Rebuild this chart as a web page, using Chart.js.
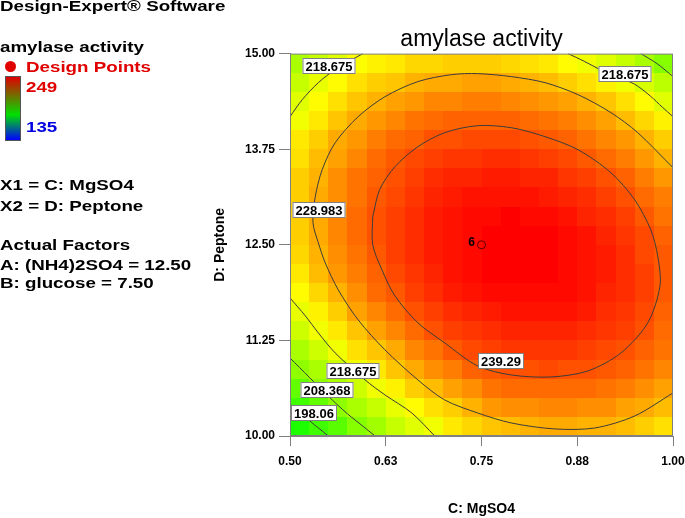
<!DOCTYPE html>
<html>
<head>
<meta charset="utf-8">
<title>amylase activity</title>
<script src="https://cdn.jsdelivr.net/npm/chart.js@4.4.1/dist/chart.umd.min.js"></script>
<style>
  html, body { margin: 0; padding: 0; background: #fff; }
  #wrap { position: relative; width: 685px; height: 518px; overflow: hidden; }
  #chart { position: absolute; left: 0; top: 0; }
  .side {
    position: absolute; left: 0;
    font: bold 15px "Liberation Sans", Arial, sans-serif;
    line-height: 15px; white-space: nowrap; color: #000;
    transform: scaleX(1.25); transform-origin: 0 0;
  }
  #dot { position: absolute; left: 5px; top: 61px; width: 11px; height: 11px; border-radius: 50%; background: #e00000; }
  #bar {
    position: absolute; left: 5px; top: 76px; width: 16px; height: 65px;
    box-sizing: border-box; border: 1px solid #555;
    background: linear-gradient(to bottom, #e00000 0%, #00e000 60%, #0000ff 100%);
  }
</style>
</head>
<body>
<div id="wrap">
  <canvas id="chart" width="685" height="518"></canvas>
  <div class="side" style="top:-2px">Design-Expert® Software</div>
  <div class="side" style="top:39px">amylase activity</div>
  <div id="dot"></div>
  <div class="side" style="top:59px; left:26px; color:#e00000">Design Points</div>
  <div id="bar"></div>
  <div class="side" style="top:79px; left:26px; color:#e00000">249</div>
  <div class="side" style="top:119px; left:26px; color:#0000e0">135</div>
  <div class="side" style="top:177px">X1 = C: MgSO4</div>
  <div class="side" style="top:198px">X2 = D: Peptone</div>
  <div class="side" style="top:237px">Actual Factors</div>
  <div class="side" style="top:257px">A: (NH4)2SO4 = 12.50</div>
  <div class="side" style="top:275px">B: glucose = 7.50</div>
</div>
<script>
// colour scale limits (from the legend bar)
const scaleMin = 135;
const scaleMax = 249;

// cell centres of the response grid
const mgso4Levels = [0.5125, 0.5375, 0.5625, 0.5875, 0.6125, 0.6375, 0.6625, 0.6875, 0.7125, 0.7375,
                     0.7625, 0.7875, 0.8125, 0.8375, 0.8625, 0.8875, 0.9125, 0.9375, 0.9625, 0.9875];
const peptoneLevels = [14.875, 14.625, 14.375, 14.125, 13.875, 13.625, 13.375, 13.125, 12.875, 12.625,
                       12.375, 12.125, 11.875, 11.625, 11.375, 11.125, 10.875, 10.625, 10.375, 10.125];

// amylase activity, one row per peptone level (top to bottom)
const activity = [
  [211,214,217,220,222,223,225,225,226,226,226,225,224,223,221,219,217,214,211,207],
  [214,218,221,224,226,227,229,230,230,231,231,230,229,228,226,224,222,219,216,213],
  [217,221,224,227,229,231,232,234,234,235,235,234,233,232,231,229,227,224,221,217],
  [219,223,227,230,232,234,236,237,238,238,238,238,237,236,235,233,231,228,225,222],
  [223,226,230,232,235,237,238,240,240,241,241,241,240,239,238,236,234,232,229,226],
  [224,228,231,234,237,239,241,242,243,243,244,244,243,242,241,239,237,235,232,229],
  [226,229,233,236,238,240,242,244,245,245,246,246,245,245,243,242,240,238,235,232],
  [226,230,233,236,239,241,243,245,246,247,247,247,247,246,245,244,242,240,237,235],
  [226,230,234,237,240,242,244,246,247,248,248,249,248,248,247,245,244,242,239,236],
  [226,230,234,237,240,242,244,246,247,248,249,249,249,249,248,247,245,243,241,238],
  [225,229,233,236,239,242,244,246,247,248,249,249,249,249,248,247,246,244,241,239],
  [223,228,232,235,238,241,243,245,247,248,249,249,249,249,248,247,246,244,242,239],
  [221,225,229,233,237,239,242,244,246,247,248,248,248,248,248,247,245,244,242,239],
  [218,222,226,231,234,237,240,242,244,245,246,247,247,247,247,246,244,243,241,238],
  [215,219,223,227,231,234,237,240,242,243,244,245,245,245,245,244,243,242,240,237],
  [211,215,219,224,227,230,234,236,239,241,242,243,243,243,243,242,241,240,238,236],
  [208,211,215,219,223,227,230,233,235,238,239,240,240,241,240,240,239,238,236,234],
  [203,208,211,215,219,222,226,228,231,233,236,237,237,237,237,237,236,235,233,231],
  [199,203,208,211,214,218,221,224,226,229,232,233,233,234,234,233,233,231,230,228],
  [195,199,202,207,210,214,217,219,223,225,227,228,229,230,230,229,229,228,226,224]
];

// contour lines
const contour239 = [[0.608,12.866],[0.608,12.50],[0.620,12.173],[0.637,11.832],[0.667,11.479],[0.702,11.217],
  [0.745,10.916],[0.789,10.798],[0.841,10.772],[0.889,10.851],[0.932,11.086],[0.967,11.479],[0.983,11.963],
  [0.980,12.356],[0.971,12.696],[0.950,13.089],[0.919,13.442],[0.876,13.743],[0.833,13.914],[0.789,14.031],
  [0.745,14.058],[0.702,13.966],[0.667,13.783],[0.637,13.521],[0.617,13.220],[0.608,12.866]];
const contour229 = [[1.0,13.508],[0.954,13.966],[0.919,14.228],[0.876,14.463],[0.833,14.620],[0.789,14.699],
  [0.745,14.738],[0.711,14.725],[0.667,14.634],[0.624,14.437],[0.589,14.175],[0.559,13.835],[0.542,13.482],
  [0.533,13.128],[0.530,12.788],[0.537,12.526],[0.546,12.264],[0.563,11.911],[0.589,11.518],[0.624,11.126],
  [0.667,10.733],[0.702,10.471],[0.745,10.301],[0.789,10.170],[0.846,10.092],[0.898,10.105],[0.950,10.262],
  [1.0,10.563]];
const contour219TL = [[0.5,14.175],[0.516,14.398],[0.537,14.620],[0.559,14.791],[0.595,15.0]];
const contour219TR = [[0.863,15.0],[0.884,14.90],[0.905,14.79],[0.930,14.68],[0.950,14.60],[0.971,14.44],
  [0.986,14.30],[1.0,14.175]];
const contour219BL = [[0.5,11.806],[0.520,11.571],[0.537,11.348],[0.559,11.086],[0.598,10.733],[0.624,10.537],
  [0.659,10.301],[0.689,10.0]];
const contour208TR = [[0.958,15.0],[0.979,14.87],[1.0,14.70]];
const contour208BL = [[0.5,11.02],[0.525,10.77],[0.55,10.52],[0.575,10.29],[0.595,10.13],[0.611,10.0]];
const contour198 = [[0.5,10.419],[0.526,10.196],[0.550,10.0]];

// contour label text and where it sits
const contourLabels = [
  ['218.675', 0.551, 14.843], ['218.675', 0.937, 14.738], ['228.983', 0.538, 12.958],
  ['239.29', 0.775, 10.982], ['218.675', 0.582, 10.851], ['208.368', 0.548, 10.602],
  ['198.06', 0.531, 10.301]
];

// design points
const designX = [0.75];
const designY = [12.5];
const designRuns = ['6'];

// axis ticks
const xTickValues = [0.5, 0.625, 0.75, 0.875, 1.0];
const xTickLabels = ['0.50', '0.63', '0.75', '0.88', '1.00'];
const yTickValues = [10, 11.25, 12.5, 13.75, 15];
const yTickLabels = ['10.00', '11.25', '12.50', '13.75', '15.00'];

const FONT = '"Liberation Sans", Arial, sans-serif';
Chart.defaults.font.family = FONT;

// green -> yellow -> red like the Design-Expert palette
function dxColor(v) {
  const t = Math.max(0, Math.min(1, (v - scaleMin) / (scaleMax - scaleMin)));
  let r, g, b;
  if (t < 0.25) { r = 0; g = 255 * t / 0.25; b = 255; }
  else if (t < 0.5) { r = 0; g = 255; b = 255 * (0.5 - t) / 0.25; }
  else if (t < 0.75) { r = 255 * (t - 0.5) / 0.25; g = 255; b = 0; }
  else { r = 255; g = 255 * (1 - t) / 0.25; b = 0; }
  return `rgb(${Math.round(r)},${Math.round(g)},${Math.round(b)})`;
}

const heatmap = {
  id: 'heatmap',
  beforeDatasetsDraw(chart) {
    const { ctx, scales: { x, y } } = chart;
    const hx = (mgso4Levels[1] - mgso4Levels[0]) / 2;
    const hy = (peptoneLevels[0] - peptoneLevels[1]) / 2;
    ctx.save();
    peptoneLevels.forEach((pv, r) => {
      mgso4Levels.forEach((mv, c) => {
        const l = Math.round(x.getPixelForValue(mv - hx));
        const rt = Math.round(x.getPixelForValue(mv + hx));
        const t = Math.round(y.getPixelForValue(pv + hy));
        const b = Math.round(y.getPixelForValue(pv - hy));
        ctx.fillStyle = dxColor(activity[r][c]);
        ctx.fillRect(l, t, rt - l, b - t);
      });
    });
    ctx.restore();
  }
};

const frameAndLabels = {
  id: 'frameAndLabels',
  afterDatasetsDraw(chart) {
    const { ctx, chartArea: a, scales: { x, y } } = chart;
    ctx.save();
    ctx.strokeStyle = '#808080';
    ctx.lineWidth = 1;
    ctx.strokeRect(a.left + 0.5, a.top + 0.5, a.right - a.left - 1, a.bottom - a.top - 1);

    ctx.font = 'bold 13px ' + FONT;
    ctx.textAlign = 'center';
    ctx.textBaseline = 'middle';
    contourLabels.forEach(([txt, lx, ly]) => {
      const px = Math.round(x.getPixelForValue(lx));
      const py = Math.round(y.getPixelForValue(ly));
      const w = Math.ceil(ctx.measureText(txt).width) + 6;
      const h = 16;
      ctx.fillStyle = '#fff';
      ctx.fillRect(px - w / 2, py - h / 2, w, h);
      ctx.strokeStyle = '#808080';
      ctx.strokeRect(px - w / 2 + 0.5, py - h / 2 + 0.5, w - 1, h - 1);
      ctx.fillStyle = '#000';
      ctx.fillText(txt, px, py + 1);
    });

    ctx.font = 'bold 12px ' + FONT;
    designX.forEach((dx, i) => {
      ctx.fillStyle = '#000';
      ctx.fillText(designRuns[i], x.getPixelForValue(dx) - 10, y.getPixelForValue(designY[i]) - 2);
    });
    ctx.restore();
  }
};

const lineStyle = {
  showLine: true, pointRadius: 0, borderColor: '#3c3c3c', borderWidth: 1, tension: 0.3
};
const toPts = arr => arr.map(([px, py]) => ({ x: px, y: py }));

const contourSets = [contour239, contour229, contour219TL, contour219TR, contour219BL,
                     contour208TR, contour208BL, contour198]
  .map(c => Object.assign({ data: toPts(c) }, lineStyle));

const tickFont = { family: FONT, size: 12, weight: 'bold' };
const titleFont = { family: FONT, size: 14, weight: 'bold' };

new Chart(document.getElementById('chart'), {
  type: 'scatter',
  data: {
    datasets: [
      ...contourSets,
      {
        data: designX.map((v, i) => ({ x: v, y: designY[i] })),
        pointRadius: 4, pointBorderWidth: 1,
        pointBorderColor: '#5a0000', pointBackgroundColor: 'rgba(0,0,0,0)'
      }
    ]
  },
  options: {
    responsive: false,
    animation: false,
    layout: { padding: { left: 212, right: 12, top: 26, bottom: 0 } },
    plugins: {
      legend: { display: false },
      tooltip: { enabled: false },
      title: {
        display: true, text: 'amylase activity', fullSize: false, color: '#000',
        font: { family: FONT, size: 23, weight: 'normal' }, padding: { top: 0, bottom: 0 }
      }
    },
    scales: {
      x: {
        type: 'linear', min: 0.5, max: 1.0,
        afterFit: s => { s.height = 82; s.paddingLeft = 0; s.paddingRight = 0; },
        afterBuildTicks: s => { s.ticks = xTickValues.map(v => ({ value: v })); },
        ticks: { callback: (v, i) => xTickLabels[i], font: tickFont, color: '#000', padding: 8, maxRotation: 0, autoSkip: false },
        grid: { drawOnChartArea: false, tickLength: 10, color: '#808080' },
        border: { color: '#808080' },
        title: { display: true, text: 'C: MgSO4', font: titleFont, color: '#000', padding: { top: 0, bottom: 0 } }
      },
      y: {
        type: 'linear', min: 10, max: 15,
        afterFit: s => { s.width = 78; s.paddingTop = 0; s.paddingBottom = 0; },
        afterBuildTicks: s => { s.ticks = yTickValues.map(v => ({ value: v })); },
        ticks: { callback: (v, i) => yTickLabels[i], font: tickFont, color: '#000', padding: 4, autoSkip: false },
        grid: { drawOnChartArea: false, tickLength: 11, color: '#808080' },
        border: { color: '#808080' },
        title: { display: true, text: 'D: Peptone', font: titleFont, color: '#000', padding: { top: 0, bottom: 0 } }
      }
    }
  },
  plugins: [heatmap, frameAndLabels]
});
</script>
</body>
</html>
